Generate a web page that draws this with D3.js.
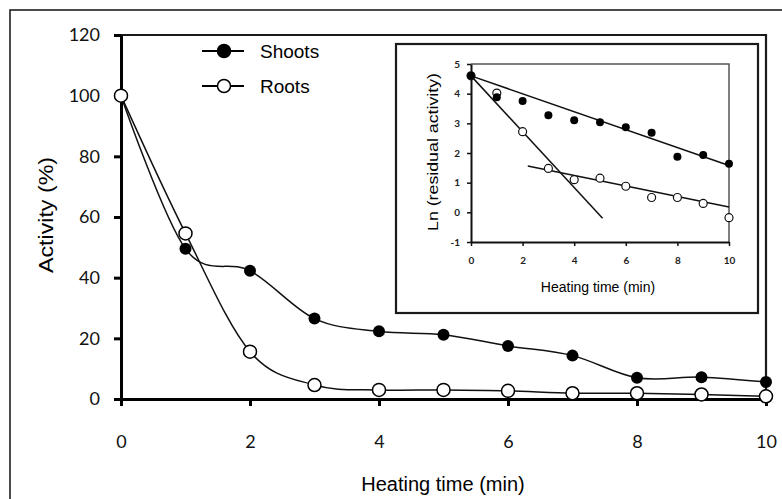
<html>
<head>
    <meta charset="utf-8">
    <script src="https://cdn.jsdelivr.net/npm/d3@7"></script>
    <style>
        body { margin: 0; background: white; }
        svg { display: block; }
    </style>
</head>
<body>
<svg id="chart" width="782" height="499"></svg>
<script>
    // main chart data (activity %)
    let times = [0, 1, 2, 3, 4, 5, 6, 7, 8, 9, 10];
    let shoots = [100, 49.5, 42.3, 26.5, 22.3, 21.2, 17.5, 14.3, 7.0, 7.2, 5.6];
    let roots = [100, 54.6, 15.6, 4.6, 3.0, 3.0, 2.7, 1.9, 1.9, 1.5, 0.9];
    let yTicks = [0, 20, 40, 60, 80, 100, 120];
    let xTicks = [0, 2, 4, 6, 8, 10];

    // inset data: Ln(residual activity)
    let lnShoots = [4.6, 3.88, 3.75, 3.27, 3.1, 3.04, 2.87, 2.68, 1.87, 1.93, 1.64];
    let lnRoots = [4.6, 4.02, 2.72, 1.48, 1.1, 1.15, 0.88, 0.5, 0.5, 0.3, -0.18];
    let fitShoots = [[0, 4.6], [10, 1.58]];
    let fitRootsA = [[0, 4.6], [5.1, -0.2]];
    let fitRootsB = [[2.2, 1.56], [10, 0.18]];
    let insetYTicks = [-1, 0, 1, 2, 3, 4, 5];
    let insetXTicks = [0, 2, 4, 6, 8, 10];

    let svg = d3.select("#chart");
    let fmt = d3.format("d");
    let plainMinus = d => String(d); // keep the plain hyphen like the original

    // outer frame (only top/left visible)
    svg.append("rect")
        .attr("x", 10).attr("y", 10)
        .attr("width", 800).attr("height", 600)
        .attr("fill", "none").attr("stroke", "#111").attr("stroke-width", 1.5);

    let x = d3.scaleLinear().domain([0, 10]).range([121, 766]);
    let y = d3.scaleLinear().domain([0, 120]).range([399, 35]);

    // plot frame top + right
    svg.append("path")
        .attr("d", "M" + x(0) + "," + y(120) + "H" + x(10) + "V" + y(0))
        .attr("fill", "none").attr("stroke", "#1a1a1a").attr("stroke-width", 2.2);

    let yAxis = svg.append("g")
        .attr("transform", "translate(" + x(0) + ",0)")
        .call(d3.axisLeft(y).tickValues(yTicks).tickFormat(fmt).tickSize(7).tickSizeOuter(0).tickPadding(14));
    let xAxis = svg.append("g")
        .attr("transform", "translate(0," + y(0) + ")")
        .call(d3.axisBottom(x).tickValues(xTicks).tickFormat(fmt).tickSize(7).tickSizeOuter(0).tickPadding(29));

    [yAxis, xAxis].forEach(a => {
        a.select(".domain").attr("stroke", "#000").attr("stroke-width", 3);
        a.selectAll(".tick line").attr("stroke", "#000").attr("stroke-width", 3);
        a.selectAll(".tick text")
            .attr("fill", "#111")
            .style("font-family", "Lato, 'Open Sans', sans-serif")
            .style("font-size", "18px");
    });

    svg.append("text")
        .attr("x", 443).attr("y", 491)
        .attr("text-anchor", "middle")
        .style("font-family", "'Liberation Sans', Arial, sans-serif")
        .style("font-size", "20px")
        .text("Heating time (min)");

    svg.append("text")
        .attr("transform", "translate(53,215) rotate(-90)")
        .attr("text-anchor", "middle")
        .attr("textLength", 116).attr("lengthAdjust", "spacingAndGlyphs")
        .style("font-family", "'Liberation Sans', Arial, sans-serif")
        .style("font-size", "20px")
        .text("Activity (%)");

    let smooth = d3.line()
        .x(d => x(d[0])).y(d => y(d[1]))
        .curve(d3.curveCardinal.tension(0));

    let shootPts = times.map((t, i) => [t, shoots[i]]);
    let rootPts = times.map((t, i) => [t, roots[i]]);

    svg.append("path").attr("d", smooth(shootPts))
        .attr("fill", "none").attr("stroke", "#111").attr("stroke-width", 1.5);
    svg.append("path").attr("d", smooth(rootPts))
        .attr("fill", "none").attr("stroke", "#111").attr("stroke-width", 1.5);

    svg.append("g").selectAll("circle").data(shootPts).enter().append("circle")
        .attr("cx", d => x(d[0])).attr("cy", d => y(d[1])).attr("r", 6)
        .attr("fill", "#000");
    svg.append("g").selectAll("circle").data(rootPts).enter().append("circle")
        .attr("cx", d => x(d[0])).attr("cy", d => y(d[1])).attr("r", 6.5)
        .attr("fill", "#fff").attr("stroke", "#000").attr("stroke-width", 1.5);

    // legend
    let legend = [{name: "Shoots", fill: "#000", yy: 51}, {name: "Roots", fill: "#fff", yy: 86}];
    let lg = svg.selectAll(".legend").data(legend).enter().append("g")
        .attr("class", "legend")
        .attr("transform", d => "translate(0," + d.yy + ")");
    lg.append("line").attr("x1", 202).attr("x2", 244).attr("y1", 0).attr("y2", 0)
        .attr("stroke", "#000").attr("stroke-width", 2);
    lg.append("circle").attr("cx", 224).attr("cy", 0).attr("r", 6.5)
        .attr("fill", d => d.fill).attr("stroke", "#000").attr("stroke-width", 1.5);
    lg.append("text").attr("x", 260).attr("y", 0).attr("dy", "0.35em")
        .style("font-family", "'Liberation Sans', Arial, sans-serif")
        .style("font-size", "19px")
        .text(d => d.name);

    // ---------- inset ----------
    let inset = svg.append("g");
    inset.append("rect")
        .attr("x", 396).attr("y", 44).attr("width", 362).attr("height", 269)
        .attr("fill", "#fff").attr("stroke", "#1a1a1a").attr("stroke-width", 2.2);

    let xi = d3.scaleLinear().domain([0, 10]).range([471, 729]);
    let yi = d3.scaleLinear().domain([-1, 5]).range([242, 64]);

    inset.append("path")
        .attr("d", "M" + xi(0) + "," + yi(5) + "H" + xi(10) + "V" + yi(-1))
        .attr("fill", "none").attr("stroke", "#555").attr("stroke-width", 1.5);

    let yiAxis = inset.append("g")
        .attr("transform", "translate(" + xi(0) + ",0)")
        .call(d3.axisLeft(yi).tickValues(insetYTicks).tickFormat(plainMinus).tickSize(4).tickSizeOuter(0).tickPadding(7));
    let xiAxis = inset.append("g")
        .attr("transform", "translate(0," + yi(-1) + ")")
        .call(d3.axisBottom(xi).tickValues(insetXTicks).tickFormat(plainMinus).tickSize(4).tickSizeOuter(0).tickPadding(11));
    [yiAxis, xiAxis].forEach(a => {
        a.select(".domain").attr("stroke", "#111").attr("stroke-width", 2);
        a.selectAll(".tick line").attr("stroke", "#111").attr("stroke-width", 1.5);
        a.selectAll(".tick text")
            .attr("fill", "#222")
            .style("font-family", "Lato, 'Open Sans', sans-serif")
            .style("font-weight", "bold")
            .style("font-size", "10px");
    });

    inset.append("text")
        .attr("x", 598).attr("y", 292)
        .attr("text-anchor", "middle")
        .style("font-family", "'Liberation Sans', Arial, sans-serif")
        .style("font-size", "14px")
        .text("Heating time (min)");
    inset.append("text")
        .attr("transform", "translate(438,152) rotate(-90)")
        .attr("text-anchor", "middle")
        .attr("textLength", 158).attr("lengthAdjust", "spacingAndGlyphs")
        .style("font-family", "'Liberation Sans', Arial, sans-serif")
        .style("font-size", "14px")
        .text("Ln (residual activity)");

    let straight = d3.line().x(d => xi(d[0])).y(d => yi(d[1]));
    [fitShoots, fitRootsA, fitRootsB].forEach(f => {
        inset.append("path").attr("d", straight(f))
            .attr("fill", "none").attr("stroke", "#111").attr("stroke-width", 1.5);
    });

    inset.append("g").selectAll("circle")
        .data(times.map((t, i) => [t, lnRoots[i]])).enter().append("circle")
        .attr("cx", d => xi(d[0])).attr("cy", d => yi(d[1])).attr("r", 4)
        .attr("fill", "#fff").attr("stroke", "#111").attr("stroke-width", 1.2);
    inset.append("g").selectAll("circle")
        .data(times.map((t, i) => [t, lnShoots[i]])).enter().append("circle")
        .attr("cx", d => xi(d[0])).attr("cy", d => yi(d[1])).attr("r", 4)
        .attr("fill", "#000");
</script>
</body>
</html>
